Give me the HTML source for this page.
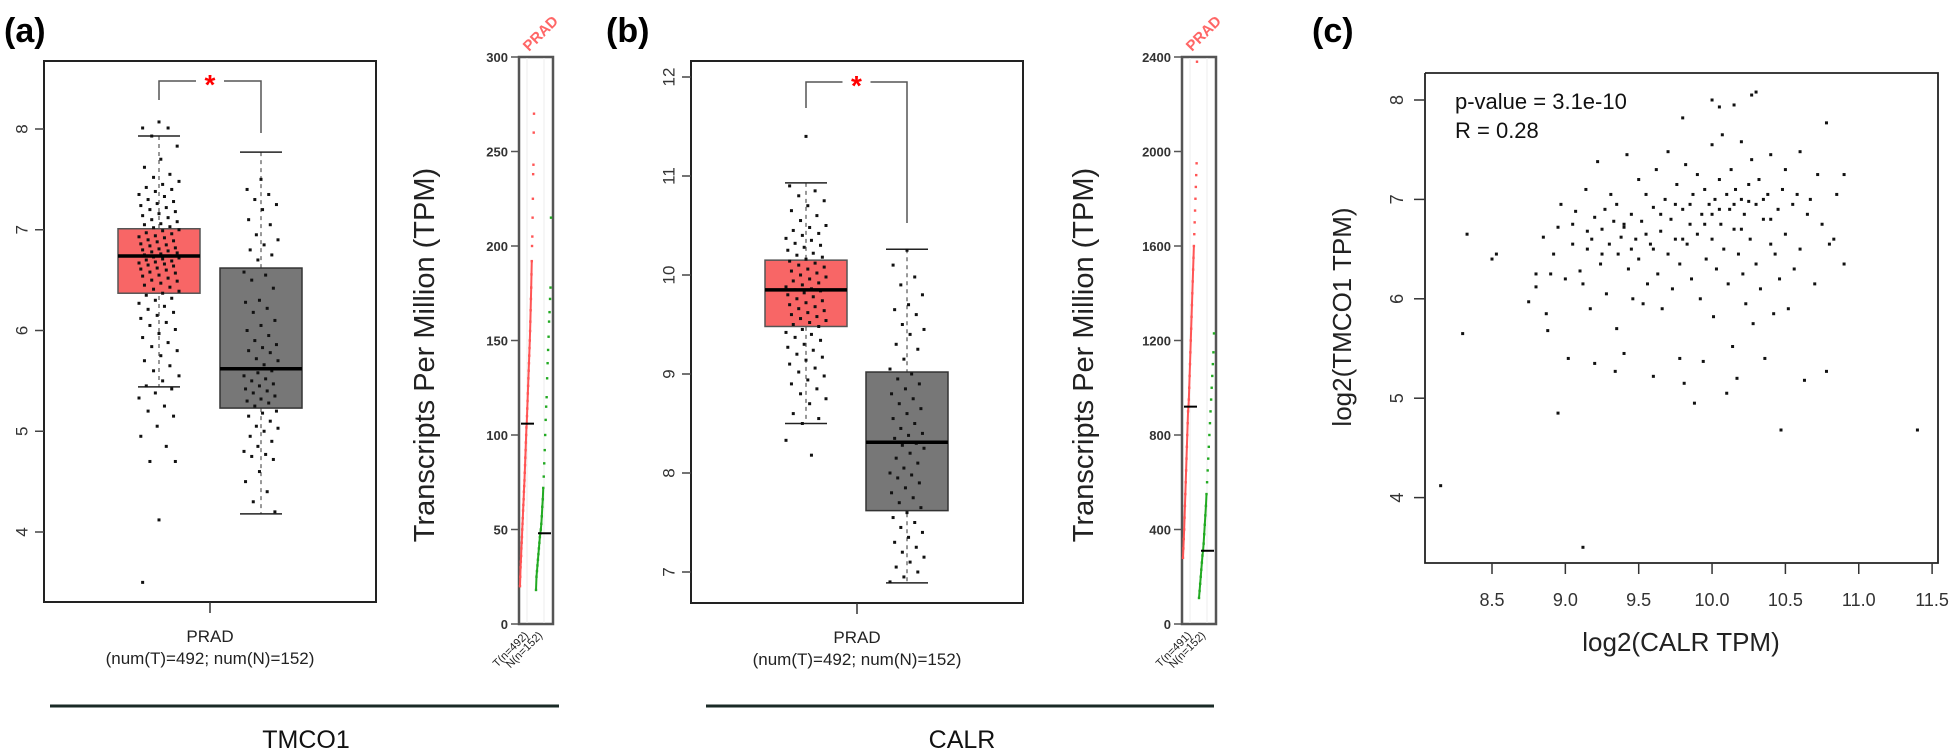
<!DOCTYPE html>
<html><head><meta charset="utf-8"><style>
html,body{margin:0;padding:0;background:#fff;}
svg{display:block;font-family:"Liberation Sans",Arial,sans-serif;}
</style></head><body>
<svg id="fig" width="1950" height="752" viewBox="0 0 1950 752" xmlns="http://www.w3.org/2000/svg">
<text x="4" y="42" font-size="34" font-weight="bold">(a)</text>
<text x="606" y="42" font-size="34" font-weight="bold">(b)</text>
<text x="1312" y="42" font-size="34" font-weight="bold">(c)</text>
<g id="gA"></g>
<g id="gB"></g>
<g id="gC"></g>
</svg>
<script>
// ---- Panel (a) TMCO1 data ----
const aTicks = [4,5,6,7,8];
const aTumorStats = [5.44, 6.37, 6.74, 7.01, 7.93]; // lowWhisker, q1, median, q3, highWhisker
const aNormalStats = [4.18, 5.23, 5.62, 6.62, 7.77];
const aTumorPts = [8.07,8.01,8.01,7.93,7.83,7.7,7.62,7.55,7.52,7.48,7.45,7.42,7.4,7.38,7.35,7.33,7.3,7.28,7.26,7.24,7.22,7.2,7.18,7.16,7.14,7.12,7.1,7.08,7.06,7.05,7.03,7.02,7.0,6.99,6.97,6.96,6.94,6.93,6.92,6.9,6.89,6.88,6.86,6.85,6.84,6.82,6.81,6.8,6.79,6.78,6.77,6.76,6.75,6.74,6.73,6.72,6.71,6.7,6.69,6.68,6.67,6.66,6.65,6.64,6.62,6.61,6.6,6.58,6.57,6.55,6.54,6.52,6.5,6.49,6.47,6.45,6.43,6.41,6.39,6.37,6.35,6.32,6.3,6.27,6.24,6.21,6.18,6.15,6.12,6.08,6.05,6.01,5.97,5.93,5.88,5.84,5.8,5.75,5.7,5.65,5.6,5.55,5.5,5.45,5.42,5.38,5.33,5.25,5.2,5.15,5.05,4.95,4.85,4.7,4.7,4.12,3.5];
const aNormalPts = [7.5,7.4,7.35,7.3,7.25,7.2,7.1,7.05,6.95,6.9,6.85,6.8,6.75,6.7,6.58,6.55,6.5,6.42,6.3,6.28,6.22,6.18,6.1,6.05,6.0,5.95,5.9,5.86,5.83,5.8,5.78,5.72,5.7,5.66,5.62,5.6,5.58,5.55,5.52,5.5,5.47,5.45,5.42,5.4,5.38,5.35,5.32,5.3,5.28,5.25,5.2,5.18,5.15,5.1,5.05,5.03,5.0,4.95,4.9,4.85,4.8,4.77,4.75,4.72,4.6,4.5,4.4,4.3,4.2];
const aMiniTicks = [0,50,100,150,200,250,300];
const aMiniTumor = [20,25,30,33,36,40,43,46,50,53,56,60,63,66,70,73,76,80,84,88,92,96,100,104,106,110,114,118,122,126,130,134,138,142,146,150,155,160,166,172,178,185,192,200,205,215,225,238,243,260,270];
const aMiniNormal = [18,25,28,31,34,37,40,43,46,48,50,53,57,62,66,72,78,85,92,100,108,115,120,130,138,145,152,160,165,172,178,215];
const aMiniMedians = [106, 48];

// ---- Panel (b) CALR data ----
const bTicks = [7,8,9,10,11,12];
const bTumorStats = [8.5, 9.48, 9.85, 10.15, 10.93];
const bNormalStats = [6.89, 7.62, 8.31, 9.02, 10.26];
const bTumorPts = [11.4,10.9,10.85,10.8,10.75,10.7,10.65,10.6,10.55,10.5,10.48,10.45,10.42,10.4,10.37,10.35,10.32,10.3,10.28,10.25,10.22,10.2,10.18,10.16,10.14,10.12,10.1,10.08,10.06,10.04,10.02,10.0,9.98,9.96,9.94,9.92,9.9,9.88,9.86,9.85,9.84,9.82,9.8,9.78,9.76,9.74,9.72,9.7,9.68,9.66,9.64,9.62,9.6,9.58,9.56,9.54,9.52,9.5,9.48,9.45,9.42,9.4,9.37,9.34,9.3,9.27,9.24,9.2,9.17,9.14,9.1,9.06,9.02,8.98,8.94,8.9,8.85,8.8,8.75,8.7,8.6,8.55,8.5,8.33,8.18];
const bNormalPts = [10.25,10.1,9.98,9.9,9.8,9.7,9.65,9.6,9.5,9.45,9.4,9.3,9.25,9.15,9.05,9.0,8.95,8.9,8.85,8.8,8.75,8.7,8.65,8.6,8.55,8.5,8.45,8.4,8.38,8.35,8.3,8.28,8.25,8.2,8.15,8.1,8.05,8.0,7.98,7.95,7.9,7.85,7.8,7.75,7.7,7.65,7.6,7.55,7.5,7.45,7.4,7.35,7.3,7.25,7.2,7.15,7.1,7.05,7.0,6.95,6.9];
const bMiniTicks = [0,400,800,1200,1600,2000,2400];
const bMiniTumor = [280,320,360,400,450,500,550,600,650,700,750,800,850,900,920,950,1000,1050,1100,1150,1200,1250,1300,1350,1400,1450,1500,1550,1600,1650,1700,1750,1800,1850,1900,1950,2380];
const bMiniNormal = [110,140,170,200,230,260,290,310,340,380,420,460,500,550,600,650,700,750,800,850,900,950,1000,1050,1100,1150,1230];
const bMiniMedians = [920, 310];

// ---- Panel (c) scatter data ----
const cXTicks = [8.5,9.0,9.5,10.0,10.5,11.0,11.5];
const cYTicks = [4,5,6,7,8];
const scatterX = [8.15,9.12,8.95,10.47,11.4,8.33,8.3,8.5,8.53,10.27,10.3,9.8,10.0,10.05,10.15,10.78,8.75,8.8,8.8,8.85,8.87,8.88,8.9,8.92,8.95,8.97,9.0,9.02,9.05,9.07,9.1,9.12,9.14,9.15,9.17,9.18,9.2,9.2,9.22,9.24,9.25,9.27,9.28,9.3,9.31,9.33,9.34,9.35,9.36,9.38,9.4,9.4,9.42,9.43,9.45,9.46,9.48,9.5,9.5,9.52,9.53,9.55,9.56,9.58,9.6,9.6,9.62,9.63,9.65,9.66,9.68,9.7,9.7,9.72,9.73,9.75,9.76,9.78,9.78,9.8,9.81,9.82,9.83,9.85,9.86,9.87,9.88,9.9,9.9,9.92,9.93,9.94,9.95,9.96,9.98,10.0,10.0,10.01,10.02,10.03,10.05,10.06,10.07,10.08,10.1,10.1,10.11,10.12,10.13,10.14,10.15,10.16,10.17,10.18,10.2,10.2,10.21,10.22,10.23,10.25,10.26,10.27,10.28,10.3,10.3,10.32,10.33,10.35,10.36,10.38,10.4,10.4,10.42,10.43,10.45,10.46,10.48,10.5,10.5,10.52,10.55,10.56,10.58,10.6,10.6,10.63,10.65,10.67,10.7,10.72,10.75,10.78,10.8,10.83,10.85,10.9,10.9,9.05,9.15,9.25,9.35,9.45,9.55,9.65,9.75,9.85,9.95,10.05,10.15,10.25,10.35,9.4,9.6,9.8,10.0,10.2,10.4];
const scatterY = [4.12,3.5,4.85,4.68,4.68,6.65,5.65,6.4,6.45,8.05,8.08,7.82,8.0,7.93,7.95,7.77,5.97,6.25,6.12,6.62,5.85,5.68,6.25,6.45,6.72,6.95,6.2,5.4,6.75,6.88,6.28,6.15,7.1,6.5,5.9,6.6,6.82,5.35,7.38,6.35,6.7,6.9,6.05,6.55,7.05,6.78,5.27,5.7,6.45,6.62,5.45,6.72,7.45,6.3,6.85,6.0,6.6,7.2,6.4,6.78,5.95,7.05,6.15,6.55,6.92,5.22,7.3,6.25,6.68,5.9,7.0,6.45,7.48,6.8,6.1,6.6,7.15,5.4,6.35,6.9,5.15,7.35,6.55,6.75,6.2,7.05,4.95,6.65,7.25,6.0,6.85,5.37,7.1,6.4,6.95,7.55,6.6,5.82,7.0,6.3,7.2,6.75,7.65,6.5,7.05,5.05,6.15,6.9,7.3,5.52,6.7,7.1,5.2,6.45,7.0,7.58,6.25,6.85,5.95,7.15,6.6,7.4,5.75,6.95,6.35,7.2,6.1,6.8,5.4,7.05,6.55,7.45,5.85,6.45,6.9,6.2,7.1,6.65,7.3,5.9,6.95,6.3,7.05,7.48,6.5,5.18,6.85,7.0,6.15,7.25,6.75,5.27,6.55,6.6,7.05,6.35,7.25,6.55,6.68,6.45,6.95,6.5,6.65,6.85,6.95,6.95,6.75,6.9,6.95,6.98,7.0,6.75,6.5,6.6,6.85,6.7,6.8];

const NS = "http://www.w3.org/2000/svg";
function mk(parent, tag, attrs, txt){
  const e = document.createElementNS(NS, tag);
  for (const k in attrs) e.setAttribute(k, attrs[k]);
  if (txt !== undefined) e.textContent = txt;
  parent.appendChild(e);
  return e;
}

function boxPanel(g, cfg){
  const y = v => cfg.yTop + (cfg.vTop - v) * cfg.ppu;
  let e = mk(g,'rect',{x:cfg.x0,y:cfg.fy0,width:cfg.x1-cfg.x0,height:cfg.fy1-cfg.fy0,fill:'none',stroke:'#222','stroke-width':2});
  
  
  cfg.ticks.forEach(t=>{
    const ty = y(t);
    let l = mk(g,'line',{x1:cfg.x0-9,x2:cfg.x0,y1:ty,y2:ty,stroke:'#444','stroke-width':1.5});
    
    
    let tx = mk(g,'text',{x:cfg.x0-22,y:ty,'font-size':17,fill:'#333','text-anchor':'middle',transform:`rotate(-90 ${cfg.x0-22} ${ty})`,'dominant-baseline':'central'}, String(t));
    
    
  });
  const groups = [
    {c:cfg.cT, s:cfg.tStats, pts:cfg.tPts, fill:'#f86666', stroke:'#555', name:'tumor', jw:40},
    {c:cfg.cN, s:cfg.nStats, pts:cfg.nPts, fill:'#777', stroke:'#333', name:'normal', jw:34}
  ];
  groups.forEach(gr=>{
    const hw = 41;
    let w = mk(g,'line',{x1:gr.c,x2:gr.c,y1:y(gr.s[4]),y2:y(gr.s[0]),stroke:'#999','stroke-width':2,'stroke-dasharray':'4 4'});
    
    
    let b = mk(g,'rect',{x:gr.c-hw,y:y(gr.s[3]),width:hw*2,height:y(gr.s[1])-y(gr.s[3]),fill:gr.fill,stroke:gr.stroke,'stroke-width':1.5});
    
    
    [gr.s[0],gr.s[4]].forEach(v=>{
      let cap = mk(g,'line',{x1:gr.c-21,x2:gr.c+21,y1:y(v),y2:y(v),stroke:'#222','stroke-width':1.5});
      
      
    });
    gr.pts.forEach((v,i)=>{
      const off = (((i*37+11)%23)/22 - 0.5) * gr.jw;
      let p = mk(g,'rect',{x:gr.c+off-1.5,y:y(v)-1.5,width:3,height:3,fill:'#111'});
      
      
    });
    let m = mk(g,'line',{x1:gr.c-hw,x2:gr.c+hw,y1:y(gr.s[2]),y2:y(gr.s[2]),stroke:'#000','stroke-width':3.5});
    
    
  });
  let br = mk(g,'path',{d:`M${cfg.cT} ${cfg.brL} V${cfg.brY} H${(cfg.cT+cfg.cN)/2-14} M${(cfg.cT+cfg.cN)/2+14} ${cfg.brY} H${cfg.cN} V${cfg.brR}`,fill:'none',stroke:'#555','stroke-width':1.5});
  
  
  let st = mk(g,'text',{x:(cfg.cT+cfg.cN)/2,y:cfg.brY+13,'font-size':28,'font-weight':'bold',fill:'#f00','text-anchor':'middle'},'*');
  
  
  const cx = (cfg.x0+cfg.x1)/2;
  let xt = mk(g,'line',{x1:cx,x2:cx,y1:cfg.fy1,y2:cfg.fy1+11,stroke:'#333','stroke-width':1.5});
  
  
  let t1 = mk(g,'text',{x:cx,y:cfg.fy1+40,'font-size':17,fill:'#222','text-anchor':'middle'},'PRAD');
  
  
  let t2 = mk(g,'text',{x:cx,y:cfg.fy1+62,'font-size':17,fill:'#222','text-anchor':'middle'},'(num(T)=492; num(N)=152)');
  
  
  let yl = mk(g,'text',{x:cfg.tpmX,y:355,'font-size':29,fill:'#222','text-anchor':'middle',transform:`rotate(-90 ${cfg.tpmX} 355)`},'Transcripts Per Million (TPM)');
  
  
  let ul = mk(g,'line',{x1:cfg.ulX0,x2:cfg.ulX1,y1:706,y2:706,stroke:'#1a2a26','stroke-width':3});
  
  
  let gn = mk(g,'text',{x:cfg.geneX,y:748,'font-size':25,fill:'#111','text-anchor':'middle'},cfg.gene);
  
  
}

function miniPanel(g, cfg){
  const y = v => 624 - v * 567 / cfg.vMax;
  const L = cfg.L, R = cfg.L + 34;
  let f = mk(g,'rect',{x:L,y:57,width:R-L,height:567,fill:'none',stroke:'#555','stroke-width':2.5});
  
  
  mk(g,'line',{x1:L+8,x2:L+8,y1:58,y2:623,stroke:'#eee','stroke-width':1});
  mk(g,'line',{x1:L+25,x2:L+25,y1:58,y2:623,stroke:'#eee','stroke-width':1});
  cfg.ticks.forEach(t=>{
    let l = mk(g,'line',{x1:L-8,x2:L,y1:y(t),y2:y(t),stroke:'#555','stroke-width':1.5});
    
    
    let tx = mk(g,'text',{x:L-11,y:y(t)+5,'font-size':13,'font-weight':'bold',fill:'#333','text-anchor':'end'},String(t));
    
    
  });
  const tx = i => L + 1 + i/(cfg.tumor.length-1)*14;
  const nx = i => L + 17 + i/(cfg.normal.length-1)*15;
  const tCurve = cfg.tumor.slice(0, cfg.tumor.length-8).map((v,i)=>`${tx(i)},${y(v)}`).join(' ');
  let tl = mk(g,'polyline',{points:tCurve,fill:'none',stroke:'#f55','stroke-width':2});
  
  
  const nCurve = cfg.normal.slice(0, Math.round(cfg.normal.length*0.5)).map((v,i)=>`${nx(i)},${y(v)}`).join(' ');
  let nl = mk(g,'polyline',{points:nCurve,fill:'none',stroke:'#2a2','stroke-width':2});
  
  
  cfg.tumor.forEach((v,i)=>{
    let p = mk(g,'rect',{x:tx(i)-1.2,y:y(v)-1.2,width:2.4,height:2.4,fill:'#f55'});
    
    
  });
  cfg.normal.forEach((v,i)=>{
    let p = mk(g,'rect',{x:nx(i)-1.2,y:y(v)-1.2,width:2.4,height:2.4,fill:'#2a2'});
    
    
  });
  let m1 = mk(g,'line',{x1:L+2,x2:L+15,y1:y(cfg.med[0]),y2:y(cfg.med[0]),stroke:'#000','stroke-width':2});
  
  
  let m2 = mk(g,'line',{x1:L+19,x2:L+32,y1:y(cfg.med[1]),y2:y(cfg.med[1]),stroke:'#000','stroke-width':2});
  
  
  let pr = mk(g,'text',{x:L+10,y:52,'font-size':15,'font-weight':'bold',fill:'#f66',transform:`rotate(-45 ${L+10} 52)`},'PRAD');
  
  
  let a = mk(g,'text',{x:L+10,y:636,'font-size':11,fill:'#222','text-anchor':'end',transform:`rotate(-45 ${L+10} 636)`},cfg.tLab);
  
  
  let b = mk(g,'text',{x:L+24,y:636,'font-size':11,fill:'#222','text-anchor':'end',transform:`rotate(-45 ${L+24} 636)`},'N(n=152)');
  
  
}

const gA = document.getElementById('gA');
boxPanel(gA,{x0:44,x1:376,fy0:61,fy1:602,yTop:129,vTop:8,ppu:100.75,ticks:aTicks,cT:159,cN:261,
  tStats:aTumorStats,nStats:aNormalStats,tPts:aTumorPts,nPts:aNormalPts,brY:81,brL:100,brR:133,
  tpmX:434,ulX0:50,ulX1:559,geneX:306,gene:'TMCO1'});
miniPanel(gA,{L:519,vMax:300,ticks:aMiniTicks,tumor:aMiniTumor,normal:aMiniNormal,med:aMiniMedians,tLab:'T(n=492)'});

const gB = document.getElementById('gB');
boxPanel(gB,{x0:691,x1:1023,fy0:61,fy1:603,yTop:77,vTop:12,ppu:99,ticks:bTicks,cT:806,cN:907,
  tStats:bTumorStats,nStats:bNormalStats,tPts:bTumorPts,nPts:bNormalPts,brY:82,brL:108,brR:223,
  tpmX:1093,ulX0:706,ulX1:1214,geneX:962,gene:'CALR'});
miniPanel(gB,{L:1182,vMax:2400,ticks:bMiniTicks,tumor:bMiniTumor,normal:bMiniNormal,med:bMiniMedians,tLab:'T(n=491)'});

// ---- scatter ----
const gC = document.getElementById('gC');
const sx = v => 1492 + (v - 8.5) * 146.7;
const sy = v => 100 + (8 - v) * 99.4;
let fr = mk(gC,'path',{d:'M1425 73 V563 H1938 V73 H1425',fill:'none',stroke:'#222','stroke-width':1.8});


cXTicks.forEach(t=>{
  let l = mk(gC,'line',{x1:sx(t),x2:sx(t),y1:563,y2:574,stroke:'#333','stroke-width':1.5});
  
  
  let tx = mk(gC,'text',{x:sx(t),y:606,'font-size':18,fill:'#333','text-anchor':'middle'},t.toFixed(1));
  
  
});
cYTicks.forEach(t=>{
  let l = mk(gC,'line',{x1:1414,x2:1425,y1:sy(t),y2:sy(t),stroke:'#333','stroke-width':1.5});
  
  
  let tx = mk(gC,'text',{x:1397,y:sy(t),'font-size':18,fill:'#333','text-anchor':'middle','dominant-baseline':'central',transform:`rotate(-90 1397 ${sy(t)})`},String(t));
  
  
});
scatterX.forEach((v,i)=>{
  let p = mk(gC,'rect',{x:sx(v)-1.5,y:sy(scatterY[i])-1.5,width:3,height:3,fill:'#111'});
  
  
});
let xl = mk(gC,'text',{x:1681,y:651,'font-size':26,fill:'#222','text-anchor':'middle'},'log2(CALR TPM)');


let yl = mk(gC,'text',{x:1351,y:317,'font-size':26,fill:'#222','text-anchor':'middle',transform:'rotate(-90 1351 317)'},'log2(TMCO1 TPM)');


let pv = mk(gC,'text',{x:1455,y:109,'font-size':22,fill:'#111'},'p-value = 3.1e-10');


let rv = mk(gC,'text',{x:1455,y:138,'font-size':22,fill:'#111'},'R = 0.28');


</script>
</body></html>
